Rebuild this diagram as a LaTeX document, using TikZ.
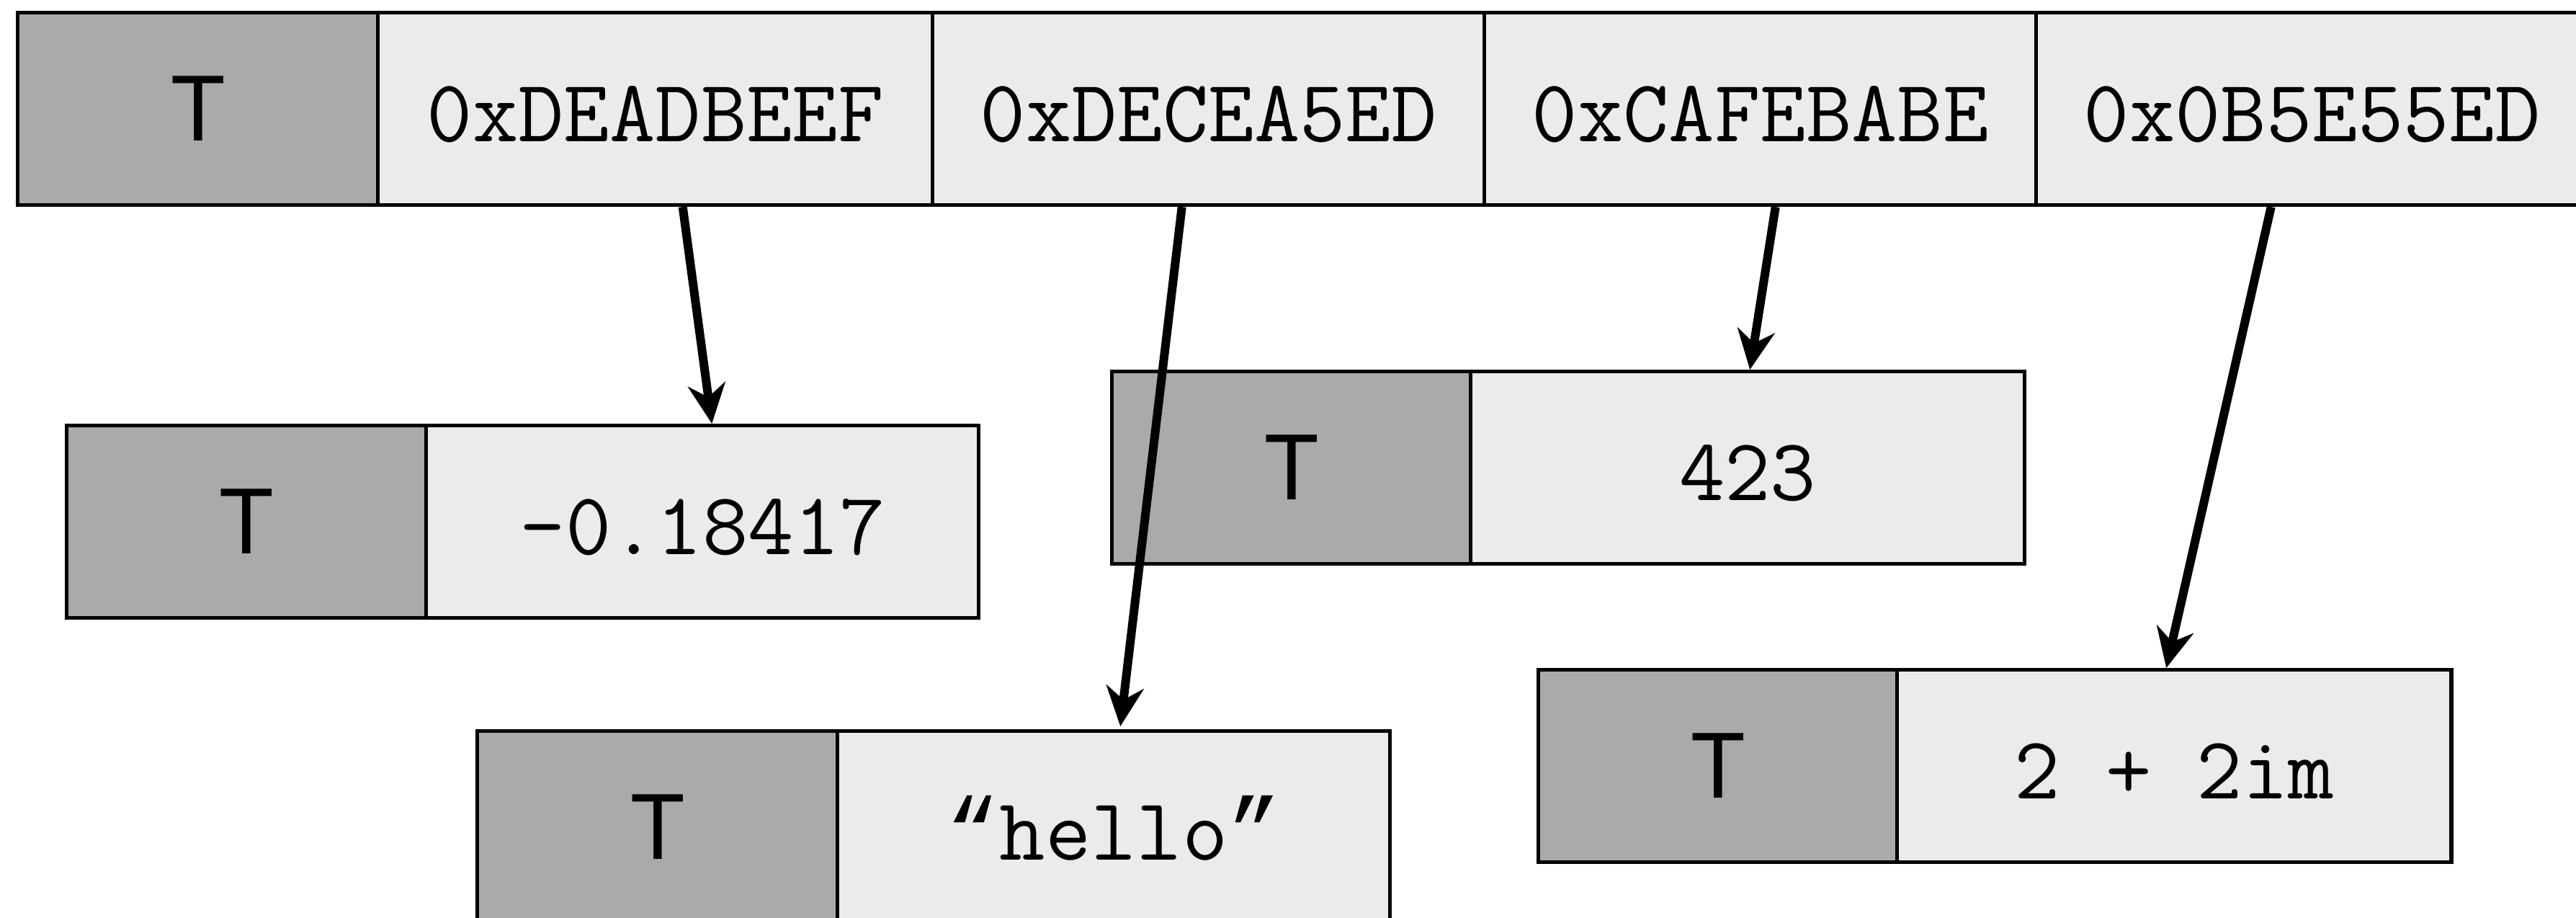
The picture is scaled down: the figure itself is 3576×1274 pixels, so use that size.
\documentclass[tikz,border=0pt]{standalone}
\usepackage{fontspec}
\newfontfamily\herosfont{TeX Gyre Heros}
\newfontfamily\quotefont{Liberation Mono}
\usetikzlibrary{arrows.meta}
\definecolor{tgray}{HTML}{AAAAAA}
\definecolor{vgray}{HTML}{EBEBEB}
\begin{document}
\begin{tikzpicture}[x=0.01cm,y=-0.01cm,
  cellbase/.style={draw=black, line width=0.05cm, inner sep=0pt, minimum height=2.67cm, anchor=north west},
  tcell/.style={cellbase, fill=tgray, minimum width=5cm, font=\herosfont\fontsize{35}{42}\selectfont},
  vcell/.style={cellbase, fill=vgray, minimum width=7.67cm, font=\ttfamily\fontsize{35}{42}\selectfont, text height=0.91cm, text depth=0pt},
  ptr/.style={line width=0.12cm, -{Stealth[length=0.55cm, width=0.52cm, inset=0.18cm]}}]
\useasboundingbox (0,0) rectangle (3576,1274);
% top row
\node[tcell] (t0) at (22,15) {T};
\node[vcell, minimum width=7.70cm] (v1) at (522,15) {0xDEADBEEF};
\node[vcell, minimum width=7.66cm] (v2) at (1292,15) {0xDECEA5ED};
\node[vcell, minimum width=7.66cm] (v3) at (2058,15) {0xCAFEBABE};
\node[vcell, minimum width=7.66cm] (v4) at (2824,15) {0x0B5E55ED};
% box A
\node[tcell, minimum width=4.99cm] (ta) at (90,588) {T};
\node[vcell] (va) at (589,588) {-0.18417};
% box B
\node[tcell] (tb) at (660,1012) {T};
\node[vcell] (vb) at (1160,1012) {{\quotefont“}hello{\quotefont”}};
% box C
\node[tcell, minimum width=4.98cm] (tc) at (1541,513) {T};
\node[vcell, minimum width=7.69cm] (vc) at (2039,513) {423};
% box D
\node[tcell, minimum width=4.98cm] (td) at (2133,927) {T};
\node[vcell, minimum width=7.69cm] (vd) at (2631,927) {2 + 2im};
% pointers
\draw[ptr] ([xshift=0.38cm]v1.south) -- ([xshift=0.13cm]va.north);
\draw[ptr] ([xshift=-0.37cm]v2.south) -- ([xshift=0.09cm,yshift=0.04cm]vb.north);
\draw[ptr] ([xshift=0.21cm]v3.south) -- ([xshift=0.03cm]vc.north);
\draw[ptr] ([xshift=-0.57cm]v4.south) -- ([xshift=-0.11cm]vd.north);
\end{tikzpicture}
\end{document}
